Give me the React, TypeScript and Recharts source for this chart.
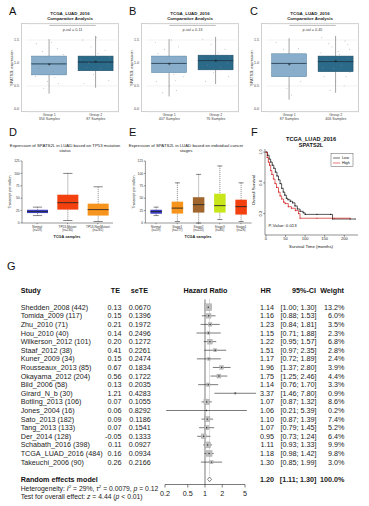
import React from 'react';
import {
  ComposedChart, ScatterChart, LineChart, Bar, Line, Scatter,
  XAxis, YAxis, CartesianGrid, ReferenceLine,
} from 'recharts';

const FONT = '"Liberation Sans", Arial, Helvetica, sans-serif';

// ---------- A-C: comparative analysis boxes ----------
const compGroups = ['Group 1', 'Group 2'];
const compSamplesA = ['356 Samples', '87 Samples'];
const compSamplesB = ['407 Samples', '76 Samples'];
const compSamplesC = ['87 Samples', '406 Samples'];
// [min, q1, median, q3, max]
const compBoxA = [[0.33, 0.74, 0.98, 1.15, 1.52], [0.46, 0.83, 1.02, 1.15, 1.59]];
const compBoxB = [[0.27, 0.79, 0.99, 1.15, 1.52], [0.54, 0.85, 1.05, 1.17, 1.57]];
const compBoxC = [[0.2, 0.7, 0.99, 1.2, 1.54], [0.35, 0.81, 1.03, 1.15, 1.59]];
const compMeanA = [0.97, 1.03];
const compMeanB = [0.98, 1.05];
const compMeanC = [0.97, 1.04];
const compTicks = [0, 0.5, 1, 1.5];
const compColors = ['#88aecb', '#2c6a89'];
const compEdges = ['#55809f', '#1b4960'];

// jittered samples [x, value]
const jitA1 = [[0.72, 1.42], [0.85, 1.25], [1.18, 1.31], [1.3, 1.18], [0.66, 1.05], [0.92, 1.12], [1.25, 0.95], [0.78, 0.88], [1.08, 0.82], [1.34, 0.78], [0.7, 0.7], [0.96, 0.6], [1.2, 0.55], [0.88, 0.45], [1.05, 1.45], [1.28, 1.02], [0.75, 0.96], [1.12, 0.68]];
const jitA2 = [[1.72, 1.5], [1.9, 1.35], [2.2, 1.28], [2.3, 1.12], [1.68, 1.08], [2.05, 1.2], [2.25, 0.98], [1.8, 0.9], [2.1, 0.88], [1.95, 0.75], [2.28, 0.62], [1.75, 0.55], [2.02, 1.55], [1.85, 1.0]];
const jitB1 = [[0.7, 1.45], [0.9, 1.3], [1.2, 1.35], [1.32, 1.15], [0.68, 1.0], [0.95, 1.1], [1.22, 0.92], [0.8, 0.85], [1.1, 0.75], [1.3, 0.7], [0.72, 0.6], [1.0, 0.5], [1.15, 0.4], [0.86, 0.35], [1.05, 1.5], [1.26, 1.05], [0.76, 1.2], [1.14, 0.62]];
const jitB2 = [[1.72, 1.52], [1.9, 1.4], [2.2, 1.3], [2.3, 1.15], [1.7, 1.1], [2.05, 1.22], [2.25, 1.0], [1.82, 0.95], [2.1, 0.9], [1.95, 0.8], [2.28, 0.7], [1.78, 0.6]];
const jitC1 = [[0.72, 1.45], [0.88, 1.3], [1.2, 1.32], [1.3, 1.1], [0.7, 0.95], [1.1, 0.85], [0.8, 0.72], [1.25, 0.6], [0.95, 0.45], [1.05, 0.3]];
const jitC2 = [[1.7, 1.55], [1.85, 1.42], [2.2, 1.48], [2.3, 1.3], [1.68, 1.22], [2.05, 1.25], [2.25, 1.1], [1.8, 1.05], [2.12, 0.95], [1.95, 0.88], [2.3, 0.8], [1.75, 0.7], [2.0, 0.6], [2.18, 0.5], [1.88, 0.4], [2.26, 1.4], [1.72, 0.9], [2.08, 1.18], [1.92, 1.35], [2.22, 0.7]];

// ---------- D-E: UALCAN boxes ----------
const tp53Labels = ['Normal', 'TP53-Mutant', 'TP53-NonMutant'];
const tp53N = ['(n=59)', '(n=230)', '(n=281)'];
const tp53Box = [[15, 20, 23, 26.7, 32], [5, 27, 41, 57, 100], [3, 15, 27, 39, 73]];
const tp53Colors = ['#3b3fc2', '#f2400f', '#f7941d'];
const stageLabels = ['Normal', 'Stage1', 'Stage2', 'Stage3', 'Stage4'];
const stageN = ['(n=59)', '(n=277)', '(n=125)', '(n=85)', '(n=28)'];
const stageBox = [[15, 18.7, 23, 26.7, 32], [3, 19, 30, 43, 81], [0, 21, 37, 52, 98], [7, 21, 35, 59, 115], [3, 17, 33, 47, 81]];
const stageColors = ['#3b3fc2', '#f7941d', '#a0662e', '#c8e619', '#f2400f'];
const tpmTicks = [0, 25, 50, 75, 100, 125];

// ---------- F: Kaplan-Meier ----------
const kmLow = [[0, 1.0], [4, 0.96], [8, 0.91], [12, 0.87], [16, 0.83], [20, 0.79], [24, 0.74], [28, 0.69], [32, 0.64], [36, 0.59], [40, 0.53], [44, 0.48], [48, 0.44], [52, 0.4], [56, 0.38], [62, 0.36], [68, 0.34], [74, 0.3], [80, 0.26], [87, 0.23], [95, 0.21], [100, 0.19], [130, 0.19], [165, 0.19], [170, 0.13], [215, 0.13], [228, 0.13]];
const kmHigh = [[0, 1.0], [3, 0.93], [6, 0.87], [9, 0.83], [12, 0.76], [15, 0.71], [19, 0.65], [23, 0.59], [27, 0.54], [32, 0.48], [36, 0.43], [40, 0.39], [45, 0.35], [49, 0.33], [57, 0.29], [65, 0.27], [75, 0.24], [83, 0.2], [87, 0.14], [130, 0.14], [175, 0.14], [215, 0.14]];
const kmXTicks = [0, 50, 100, 150, 200];
const kmYTicks = [0, 0.2, 0.4, 0.6, 0.8, 1.0];

// ---------- G: forest plot ----------
const studies = ['Shedden_2008 (442)', 'Tomida_2009 (117)', 'Zhu_2010 (71)', 'Hou_2010 (40)', 'Wilkerson_2012 (101)', 'Staaf_2012 (38)', 'Kuner_2009 (34)', 'Rousseaux_2013 (85)', 'Okayama_2012 (204)', 'Bild_2006 (58)', 'Girard_N_b (30)', 'Botling_2013 (106)', 'Jones_2004 (16)', 'Sato_2013 (182)', 'Tang_2013 (133)', 'Der_2014 (128)', 'Schabath_2016 (398)', 'TCGA_LUAD_2016 (484)', 'Takeuchi_2006 (90)'];
const te = [0.13, 0.15, 0.21, 0.14, 0.2, 0.41, 0.15, 0.67, 0.56, 0.13, 1.21, 0.07, 0.06, 0.09, 0.07, -0.05, 0.11, 0.16, 0.26];
const seTE = ['0.0670', '0.1396', '0.1972', '0.2496', '0.1272', '0.2261', '0.2474', '0.1834', '0.1722', '0.2035', '0.4283', '0.1055', '0.8292', '0.1186', '0.1541', '0.1333', '0.0927', '0.0934', '0.2166'];
const hr = [1.14, 1.16, 1.23, 1.15, 1.22, 1.51, 1.17, 1.96, 1.75, 1.14, 3.37, 1.07, 1.06, 1.1, 1.07, 0.95, 1.11, 1.18, 1.3];
const ciLo = [1.0, 0.88, 0.84, 0.71, 0.95, 0.97, 0.72, 1.37, 1.25, 0.76, 1.46, 0.87, 0.21, 0.87, 0.79, 0.73, 0.93, 0.98, 0.85];
const ciHi = [1.3, 1.53, 1.81, 1.88, 1.57, 2.35, 1.89, 2.8, 2.46, 1.7, 7.8, 1.32, 5.39, 1.39, 1.45, 1.24, 1.33, 1.42, 1.99];
const weight = [13.2, 6.0, 3.5, 2.3, 6.8, 2.8, 2.4, 3.9, 4.4, 3.3, 0.9, 8.6, 0.2, 7.4, 5.2, 6.4, 9.9, 9.8, 3.0];
const pooled = { hr: 1.2, lo: 1.11, hi: 1.3, weight: 100 };
const hrTicks = [0.2, 0.5, 1, 2, 5];
const SUMMARY_ROW = 20;

const fmt2 = (v: number) => v.toFixed(2);
const FS = 7.2; // forest text size

// ---------- shapes ----------
const compWhisker = (p: any) => {
  const cx = p.x + p.width / 2;
  return <line x1={cx} x2={cx} y1={p.y} y2={p.y + p.height} stroke="#4a4a4a" strokeWidth={0.5} />;
};
const compBox = (withMedian: boolean) => (p: any) => (
  <g>
    <rect x={p.x} y={p.y} width={p.width} height={p.height} fill={p.payload.color} stroke={p.payload.edge} strokeWidth={0.5} />
    {withMedian && <line x1={p.x} x2={p.x + p.width} y1={p.y + p.height} y2={p.y + p.height} stroke="#1d3140" strokeWidth={0.7} />}
  </g>
);
const jitterDot = (p: any) => <circle cx={p.cx} cy={p.cy} r={0.45} fill="#8c8c8c" />;
const meanMark = (p: any) => (
  <path d={`M${p.cx - 1.3},${p.cy}h2.6M${p.cx},${p.cy - 1.3}v2.6`} stroke="#1d1d1d" strokeWidth={0.5} />
);

const uWhisker = (lower: boolean) => (p: any) => {
  const cx = p.x + p.width / 2;
  const capY = lower ? p.y + p.height : p.y;
  const cw = p.width * 0.22;
  return (
    <g>
      <line x1={cx} x2={cx} y1={p.y} y2={p.y + p.height} stroke="#222" strokeWidth={0.45} strokeDasharray="1.2 0.8" />
      <line x1={cx - cw} x2={cx + cw} y1={capY} y2={capY} stroke="#222" strokeWidth={0.55} />
    </g>
  );
};
const uBox = (withMedian: boolean) => (p: any) => (
  <g>
    <rect x={p.x} y={p.y} width={p.width} height={p.height} fill={p.payload.color} />
    {withMedian && <line x1={p.x} x2={p.x + p.width} y1={p.y + p.height} y2={p.y + p.height} stroke="#111" strokeWidth={0.8} />}
  </g>
);

const toBoxRows = (names: string[], boxes: number[][], colors: string[], edges?: string[]) =>
  names.map((name, i) => {
    const [mn, q1, md, q3, mx] = boxes[i];
    return { name, base: mn, lw: q1 - mn, lb: md - q1, ub: q3 - md, uw: mx - q3, color: colors[i], edge: edges ? edges[i] : colors[i] };
  });

// ---------- panels ----------
function CompPanel({ samples, boxes, means, j1, j2 }: any) {
  const data = toBoxRows(compGroups, boxes, compColors, compEdges);
  const pts = [...j1, ...j2].map(([x, y]: number[]) => ({ x, y }));
  const mpts = means.map((y: number, i: number) => ({ x: i + 1, y }));
  return (
    <ComposedChart width={120} height={130} data={data} margin={{ top: 24, right: 1, bottom: 0, left: 14 }} barCategoryGap="12%">
      <CartesianGrid xAxisId="c" vertical={false} stroke="#e4e4e4" strokeWidth={0.5} />
      <XAxis
        xAxisId="c" dataKey="name" height={18} axisLine={false} tickLine={false} tickSize={0} tickMargin={0} interval={0}
        tick={(p: any) => (
          <text textAnchor="middle" fontSize={3.6} fill="#444" fontFamily={FONT}>
            <tspan x={p.x} y={p.y + 4.3}>{p.payload.value}</tspan>
            <tspan x={p.x} y={p.y + 8}>{samples[p.index]}</tspan>
          </text>
        )}
      />
      <XAxis xAxisId="j" dataKey="x" type="number" domain={[0.5, 2.5]} hide />
      <YAxis
        type="number" domain={[-0.07, 1.85]} ticks={compTicks} width={12} axisLine={false} tickLine={false}
        tickSize={0} tickMargin={7} tick={{ fontSize: 3.6, fill: '#444' }} tickFormatter={(v: number) => v.toFixed(1)}
      />
      <ReferenceLine xAxisId="c" segment={[{ x: 'Group 1', y: 1.82 }, { x: 'Group 2', y: 1.82 }]} stroke="#777" strokeWidth={0.5} />
      <Bar xAxisId="c" dataKey="base" stackId="b" fill="none" isAnimationActive={false} />
      <Bar xAxisId="c" dataKey="lw" stackId="b" shape={compWhisker} isAnimationActive={false} />
      <Bar xAxisId="c" dataKey="lb" stackId="b" shape={compBox(false)} isAnimationActive={false} />
      <Bar xAxisId="c" dataKey="ub" stackId="b" shape={compBox(true)} isAnimationActive={false} />
      <Bar xAxisId="c" dataKey="uw" stackId="b" shape={compWhisker} isAnimationActive={false} />
      <Scatter xAxisId="j" data={pts} dataKey="y" shape={jitterDot} isAnimationActive={false} />
      <Scatter xAxisId="j" data={mpts} dataKey="y" shape={meanMark} isAnimationActive={false} />
    </ComposedChart>
  );
}

function UalcanPanel({ width, left, right, labels, ns, boxes, colors, barSize }: any) {
  const data = toBoxRows(labels, boxes, colors);
  return (
    <ComposedChart width={width} height={110} data={data} margin={{ top: 21, right, bottom: 0, left: left - 8 }} barSize={barSize}>
      <XAxis
        dataKey="name" height={27} stroke="#333" strokeWidth={0.5} tickSize={1.2} tickMargin={0.8} interval={0}
        tick={(p: any) => (
          <text textAnchor="middle" fontSize={3.1} fill="#333" fontFamily={FONT}>
            <tspan x={p.x} y={p.y + 2.8}>{p.payload.value}</tspan>
            <tspan x={p.x} y={p.y + 6.3}>{ns[p.index]}</tspan>
          </text>
        )}
      />
      <YAxis
        type="number" domain={[0, 125]} ticks={tpmTicks} width={8} stroke="#333" strokeWidth={0.5}
        tickSize={1.5} tickMargin={0.8} tick={{ fontSize: 3.3, fill: '#333' }}
      />
      <Bar dataKey="base" stackId="b" fill="none" isAnimationActive={false} />
      <Bar dataKey="lw" stackId="b" shape={uWhisker(true)} isAnimationActive={false} />
      <Bar dataKey="lb" stackId="b" shape={uBox(false)} isAnimationActive={false} />
      <Bar dataKey="ub" stackId="b" shape={uBox(true)} isAnimationActive={false} />
      <Bar dataKey="uw" stackId="b" shape={uWhisker(false)} isAnimationActive={false} />
    </ComposedChart>
  );
}

function KmPanel() {
  const low = kmLow.map(([m, s]) => ({ m, s }));
  const high = kmHigh.map(([m, s]) => ({ m, s }));
  return (
    <LineChart width={129} height={120} margin={{ top: 19, right: 11, bottom: 0, left: 0 }}>
      <XAxis
        dataKey="m" type="number" domain={[-2.5, 235]} ticks={kmXTicks} height={15} stroke="#222" strokeWidth={0.5}
        tickSize={1.8} tickMargin={0.5} tick={{ fontSize: 4, fill: '#222' }} allowDataOverflow
      />
      <YAxis
        type="number" domain={[-0.078, 1.04]} ticks={kmYTicks} width={25} stroke="#222" strokeWidth={0.5}
        tickSize={1.8} tickMargin={1.2} allowDataOverflow
        tick={(p: any) => (
          <text x={p.x} y={p.y} transform={`rotate(-90 ${p.x} ${p.y})`} textAnchor="middle" fontSize={4} fill="#222" fontFamily={FONT}>
            {p.payload.value.toFixed(1)}
          </text>
        )}
      />
      <Line data={low} dataKey="s" type="stepAfter" stroke="#111" strokeWidth={0.7} dot={{ r: 0.6, fill: '#111', stroke: 'none' }} isAnimationActive={false} />
      <Line data={high} dataKey="s" type="stepAfter" stroke="#d32020" strokeWidth={0.7} dot={{ r: 0.6, fill: '#d32020', stroke: 'none' }} isAnimationActive={false} />
    </LineChart>
  );
}

// one tick per table row: draws the left and right columns of that row
const rowTick = (p: any) => {
  const i = p.payload.value;
  const y = p.y;
  const isSum = i === SUMMARY_ROW;
  const h = isSum ? pooled.hr : hr[i];
  const lo = isSum ? pooled.lo : ciLo[i];
  const hi = isSum ? pooled.hi : ciHi[i];
  const w = isSum ? pooled.weight : weight[i];
  return (
    <g fontSize={FS} fill="#222" fontFamily={FONT} fontWeight={isSum ? 'bold' : 'normal'}>
      {isSum ? (
        <text x={20.7} y={y} dy="0.35em" fill="#111">Random effects model</text>
      ) : (
        <>
          <text x={20.7} y={y} dy="0.35em">{studies[i]}</text>
          <text x={121.5} y={y} dy="0.35em" textAnchor="end">{fmt2(te[i])}</text>
          <text x={150.8} y={y} dy="0.35em" textAnchor="end">{seTE[i]}</text>
        </>
      )}
      <text x={274} y={y} dy="0.35em" textAnchor="end">{fmt2(h)}</text>
      <text x={316.5} y={y} dy="0.35em" textAnchor="end">{`[${fmt2(lo)}; ${fmt2(hi)}]`}</text>
      <text x={344.5} y={y} dy="0.35em" textAnchor="end">{`${w.toFixed(1)}%`}</text>
    </g>
  );
};

const forestSquare = (p: any) => {
  const s = 1.9 * Math.sqrt(p.payload.w);
  return (
    <g>
      <rect x={p.cx - s / 2} y={p.cy - s / 2} width={s} height={s} fill="#bdbdbd" stroke="#9a9a9a" strokeWidth={0.3} />
      <circle cx={p.cx} cy={p.cy} r={0.7} fill="#222" />
    </g>
  );
};

function ForestPanel() {
  const rows = studies.map((_, i) => ({ hr: hr[i], row: i, w: weight[i] }));
  const tickRows = [...studies.map((_, i) => i), SUMMARY_ROW];
  const d = 0.28;
  const diamond = [
    [{ x: pooled.lo, y: SUMMARY_ROW }, { x: pooled.hr, y: SUMMARY_ROW - d }],
    [{ x: pooled.hr, y: SUMMARY_ROW - d }, { x: pooled.hi, y: SUMMARY_ROW }],
    [{ x: pooled.hi, y: SUMMARY_ROW }, { x: pooled.hr, y: SUMMARY_ROW + d }],
    [{ x: pooled.hr, y: SUMMARY_ROW + d }, { x: pooled.lo, y: SUMMARY_ROW }],
  ];
  return (
    <ScatterChart width={369} height={226} margin={{ top: 10, right: 124, bottom: 0, left: 0 }}>
      <XAxis
        dataKey="hr" type="number" scale="log" domain={[0.2, 5]} ticks={hrTicks} allowDataOverflow height={21.5}
        stroke="#222" strokeWidth={0.6} tickSize={3} tickMargin={3} tick={{ fontSize: FS, fill: '#222' }}
        tickFormatter={(v: number) => String(v)}
      />
      <YAxis
        dataKey="row" type="number" domain={[-2, 20.6]} reversed ticks={tickRows} interval={0}
        width={165} axisLine={false} tickLine={false} tick={rowTick}
      />
      <ReferenceLine segment={[{ x: 1, y: -0.9 }, { x: 1, y: 20.6 }]} stroke="#222" strokeWidth={0.6} />
      <ReferenceLine segment={[{ x: pooled.hr, y: -0.9 }, { x: pooled.hr, y: 19.6 }]} stroke="#888" strokeWidth={0.6} strokeDasharray="1 1" />
      {rows.map((r) => (
        <ReferenceLine
          key={r.row} ifOverflow="visible"
          segment={[{ x: ciLo[r.row], y: r.row }, { x: ciHi[r.row], y: r.row }]}
          stroke="#222" strokeWidth={0.6}
        />
      ))}
      {diamond.map((seg, k) => (
        <ReferenceLine key={`d${k}`} segment={seg} stroke="#333" strokeWidth={0.6} />
      ))}
      <Scatter data={rows} shape={forestSquare} isAnimationActive={false} />
    </ScatterChart>
  );
}

const compTitle = (cx: number, pval: string) => (
  <g fontFamily={FONT} fill="#222" textAnchor="middle">
    <text x={cx} y={15} fontSize={4.4} fontWeight="bold">TCGA_LUAD_2016</text>
    <text x={cx} y={19.8} fontSize={4.4} fontWeight="bold">Comparative Analysis</text>
    <text x={cx + 2.5} y={31} fontSize={3.8} fill="#444">{`p-val = ${pval}`}</text>
  </g>
);

export default function App() {
  return (
    <div style={{ position: 'absolute', left: 0, top: 0, width: 369, height: 506, background: '#fff', overflow: 'hidden', fontFamily: FONT }}>
      {[0, 120, 240].map((off) => (
        <div key={off} style={{ position: 'absolute', left: off + 21, top: 23, width: 98, height: 89, border: '0.5px solid #cfcfcf', boxSizing: 'border-box' }} />
      ))}
      <div style={{ position: 'absolute', left: 0, top: 0 }}>
        <CompPanel samples={compSamplesA} boxes={compBoxA} means={compMeanA} j1={jitA1} j2={jitA2} />
      </div>
      <div style={{ position: 'absolute', left: 120, top: 0 }}>
        <CompPanel samples={compSamplesB} boxes={compBoxB} means={compMeanB} j1={jitB1} j2={jitB2} />
      </div>
      <div style={{ position: 'absolute', left: 240, top: 0 }}>
        <CompPanel samples={compSamplesC} boxes={compBoxC} means={compMeanC} j1={jitC1} j2={jitC2} />
      </div>
      <div style={{ position: 'absolute', left: 0, top: 140 }}>
        <UalcanPanel width={120} left={22} right={7} labels={tp53Labels} ns={tp53N} boxes={tp53Box} colors={tp53Colors} barSize={21} />
      </div>
      <div style={{ position: 'absolute', left: 120, top: 140 }}>
        <UalcanPanel width={135} left={25.4} right={3.4} labels={stageLabels} ns={stageN} boxes={stageBox} colors={stageColors} barSize={11.5} />
      </div>
      <div style={{ position: 'absolute', left: 240, top: 130 }}>
        <KmPanel />
      </div>
      <div style={{ position: 'absolute', left: 0, top: 280 }}>
        <ForestPanel />
      </div>
      <svg width={369} height={506} style={{ position: 'absolute', left: 0, top: 0, pointerEvents: 'none' }} fontFamily={FONT}>
        <g fontSize={11} fill="#111">
          <text x={9} y={15}>A</text>
          <text x={129} y={15}>B</text>
          <text x={250} y={15}>C</text>
          <text x={9} y={136}>D</text>
          <text x={129} y={136}>E</text>
          <text x={251} y={136}>F</text>
          <text x={7} y={270}>G</text>
        </g>
        {compTitle(70, '0.11')}
        {compTitle(190, '0.13')}
        {compTitle(310, '0.45')}
        {[12.5, 132.5, 252.5].map((x) => (
          <text key={x} x={x} y={68} transform={`rotate(-90 ${x} 68)`} textAnchor="middle" fontSize={3.8} fill="#333">SPATS2L expression</text>
        ))}
        <g fontSize={4.3} fill="#222" textAnchor="middle">
          <text x={65} y={147}>Expression of SPATS2L in LUAD based on TP53 mutation</text>
          <text x={65} y={152}>status</text>
          <text x={186} y={147}>Expression of SPATS2L in LUAD based on individual cancer</text>
          <text x={186} y={152}>stages</text>
          <text x={67} y={238} fontWeight="bold" fontSize={3.8}>TCGA samples</text>
          <text x={198} y={238} fontWeight="bold" fontSize={3.8}>TCGA samples</text>
          <text x={11} y={192} fontSize={3.6} transform="rotate(-90 11 192)">Transcript per million</text>
          <text x={135} y={192} fontSize={3.6} transform="rotate(-90 135 192)">Transcript per million</text>
        </g>
        <g fill="#111" textAnchor="middle">
          <text x={311} y={140.5} fontSize={5.6} fontWeight="bold">TCGA_LUAD_2016</text>
          <text x={311} y={147} fontSize={5.6} fontWeight="bold">SPATS2L</text>
          <text x={311} y={248} fontSize={4.3}>Survival Time (months)</text>
          <text x={255} y={190} fontSize={4.3} transform="rotate(-90 255 190)">Overall Survival</text>
          <text x={268.5} y={226.5} fontSize={4.3} textAnchor="start">P-Value: 0.013</text>
        </g>
        <g>
          <rect x={331} y={153.5} width={22} height={13} fill="#fff" stroke="#333" strokeWidth={0.4} />
          <line x1={333} x2={340} y1={158} y2={158} stroke="#111" strokeWidth={0.6} />
          <line x1={333} x2={340} y1={163} y2={163} stroke="#d32020" strokeWidth={0.6} />
          <text x={342} y={159.4} fontSize={3.8} fill="#111">Low</text>
          <text x={342} y={164.4} fontSize={3.8} fill="#111">High</text>
        </g>
        <g fontSize={FS} fontWeight="bold" fill="#111">
          <text x={20.7} y={293.4}>Study</text>
          <text x={120} y={293.4} textAnchor="end">TE</text>
          <text x={148} y={293.4} textAnchor="end">seTE</text>
          <text x={205.5} y={293.4} textAnchor="middle">Hazard Ratio</text>
          <text x={271} y={293.4} textAnchor="end">HR</text>
          <text x={316} y={293.4} textAnchor="end">95%-CI</text>
          <text x={344} y={293.4} textAnchor="end">Weight</text>
        </g>
        <g fontSize={6.8} fill="#222">
          <text x={20.7} y={490.6}>
            {'Heterogeneity: '}
            <tspan fontStyle="italic">I</tspan>
            <tspan dy={-2.5} fontSize={4.4}>2</tspan>
            <tspan dy={2.5}>{' = 29%, '}</tspan>
            <tspan fontStyle="italic">τ</tspan>
            <tspan dy={-2.5} fontSize={4.4}>2</tspan>
            <tspan dy={2.5}>{' = 0.0079, '}</tspan>
            <tspan fontStyle="italic">p</tspan>
            {' = 0.12'}
          </text>
          <text x={20.7} y={499.2}>
            {'Test for overall effect: '}
            <tspan fontStyle="italic">z</tspan>
            {' = 4.44 ('}
            <tspan fontStyle="italic">p</tspan>
            {' < 0.01)'}
          </text>
        </g>
      </svg>
    </div>
  );
}
